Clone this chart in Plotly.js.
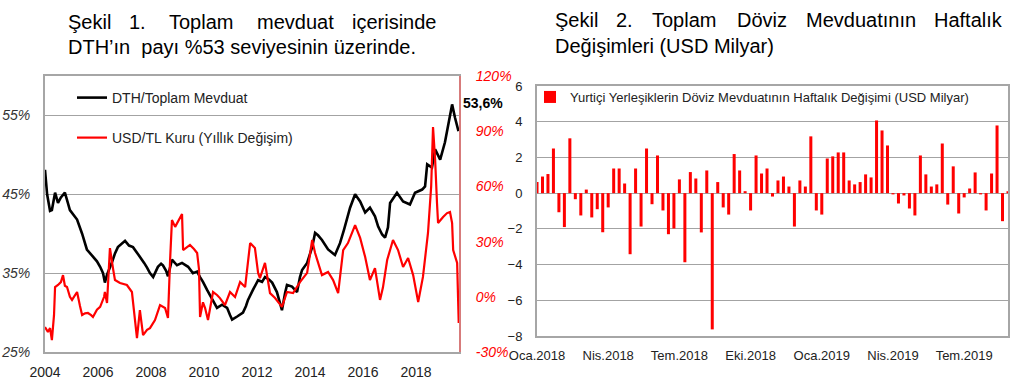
<!DOCTYPE html>
<html>
<head>
<meta charset="utf-8">
<script src="https://cdn.plot.ly/plotly-3.0.1.min.js"></script>
<style>html,body{margin:0;padding:0;background:#fff;}#chart{width:1024px;height:387px;}</style>
</head>
<body>
<div id="chart"></div>
<script>
// ---- Chart 1: DTH share (left axis) and USD/TL annual change (right axis) ----
const dthYear = [2004.00,2004.08,2004.19,2004.26,2004.38,2004.49,2004.60,2004.75,2004.83,2004.94,2005.21,2005.40,2005.58,2005.81,2005.96,2006.08,2006.19,2006.26,2006.34,2006.53,2006.64,2006.75,2006.91,2007.02,2007.17,2007.32,2007.47,2007.58,2007.74,2007.85,2007.96,2008.08,2008.19,2008.26,2008.38,2008.45,2008.57,2008.64,2008.79,2008.98,2009.17,2009.40,2009.58,2009.74,2009.85,2009.96,2010.11,2010.23,2010.38,2010.49,2010.68,2010.87,2010.98,2011.06,2011.25,2011.47,2011.58,2011.66,2011.85,2012.04,2012.19,2012.30,2012.45,2012.57,2012.75,2012.87,2012.94,2013.06,2013.13,2013.32,2013.51,2013.62,2013.70,2013.89,2014.08,2014.19,2014.30,2014.45,2014.68,2014.94,2015.13,2015.28,2015.40,2015.51,2015.70,2015.89,2016.08,2016.26,2016.45,2016.57,2016.72,2016.83,2016.94,2017.02,2017.28,2017.51,2017.77,2017.96,2018.23,2018.34,2018.42,2018.60,2018.72,2018.91,2019.09,2019.21,2019.36,2019.47,2019.60];
const dthValue = [48.1,45.0,42.9,43.0,45.2,43.9,44.6,45.2,44.3,43.0,41.8,40.0,38.0,37.1,36.5,35.8,35.0,33.8,34.8,36.4,37.5,38.3,38.8,39.1,38.5,38.3,37.6,37.1,36.3,35.7,35.0,34.5,35.2,35.8,36.2,36.0,35.3,34.6,36.7,36.0,36.3,35.8,35.0,35.2,34.5,33.9,32.9,32.2,31.2,30.6,31.0,30.6,29.7,29.1,29.5,30.0,30.8,31.6,32.9,34.1,33.9,34.5,34.2,33.8,32.6,31.2,30.3,32.5,33.5,33.3,32.6,34.5,35.4,36.3,38.3,40.1,39.8,39.2,38.0,37.3,38.8,40.5,41.8,43.3,45.0,44.1,42.7,43.3,42.2,40.9,39.9,39.5,40.8,43.9,45.2,44.1,43.7,45.2,45.6,46.0,48.8,48.4,50.7,49.4,51.6,53.6,56.4,54.7,53.0];

const usdYear = [2004.00,2004.11,2004.19,2004.26,2004.34,2004.38,2004.49,2004.60,2004.68,2004.75,2004.83,2004.94,2005.02,2005.13,2005.21,2005.32,2005.40,2005.51,2005.62,2005.74,2005.81,2005.96,2006.08,2006.23,2006.26,2006.34,2006.45,2006.57,2006.64,2006.83,2006.98,2007.09,2007.28,2007.36,2007.47,2007.58,2007.70,2007.85,2007.96,2008.15,2008.34,2008.53,2008.64,2008.72,2008.79,2008.91,2009.06,2009.17,2009.21,2009.36,2009.47,2009.62,2009.74,2009.81,2009.85,2009.96,2010.04,2010.15,2010.34,2010.49,2010.60,2010.79,2010.98,2011.17,2011.36,2011.55,2011.66,2011.74,2011.92,2012.04,2012.11,2012.30,2012.49,2012.68,2012.94,2013.13,2013.36,2013.62,2013.89,2014.08,2014.19,2014.45,2014.68,2014.87,2015.06,2015.25,2015.43,2015.70,2015.89,2016.08,2016.26,2016.45,2016.64,2016.75,2016.91,2017.13,2017.32,2017.51,2017.70,2017.89,2018.08,2018.26,2018.45,2018.57,2018.64,2018.72,2018.79,2018.83,2019.02,2019.17,2019.28,2019.36,2019.40,2019.55,2019.61];
const usdValue = [-16.4,-19.1,-17.0,-23.5,-10.0,5.3,6.4,8.0,11.8,6.0,5.3,0.0,-1.7,1.0,2.6,-5.0,-9.9,-9.0,-8.8,-10.0,-11.0,-7.0,-5.5,0.0,2.6,-3.4,26.5,15.0,9.1,7.5,7.0,6.4,2.6,-8.0,-22.4,-7.2,-20.8,-18.0,-17.0,-12.6,-4.5,-6.1,-11.5,20.0,41.7,38.0,42.0,45.0,25.4,27.0,28.2,26.0,23.8,15.0,-11.0,-3.0,-6.1,-12.6,2.6,1.0,-0.7,-4.5,2.6,-0.1,8.0,5.3,18.0,29.2,26.5,13.0,10.2,18.4,2.0,-0.7,-5.5,2.6,2.0,8.0,13.0,30.9,23.8,11.8,13.5,9.1,2.0,25.4,29.2,39.0,32.0,21.6,9.1,15.6,-1.7,5.0,20.0,30.9,25.4,16.2,21.1,11.8,-2.8,10.8,34.7,60.0,92.3,74.3,51.0,40.1,43.4,45.5,46.1,40.1,25.4,18.4,-14.2];

const leftTicks = [25, 35, 45, 55];
const leftTickText = ['25%', '35%', '45%', '55%'];
const rightTicks = [-30, 0, 30, 60, 90, 120];
const rightTickText = ['-30%', '0%', '30%', '60%', '90%', '120%'];
const yearTicks = [2004, 2006, 2008, 2010, 2012, 2014, 2016, 2018];

// ---- Chart 2: weekly change of residents' FX deposits (USD bn) ----
const weekStart = [2018, 0, 5];
const weeklyChange = [0.62,0.93,1.07,2.5,-1.07,-1.9,3.07,-0.34,-1.25,0.2,
  -1.36,-0.9,-2.19,-0.8,1.38,1.38,0.54,-3.42,1.38,-1.87,
  2.5,-0.62,2.11,-0.97,-2.3,-1.98,0.77,-3.87,1.18,0.82,
  -2.2,1.27,-7.63,0.62,-0.8,-1.2,2.19,1.27,0.11,-0.97,
  2.11,1.1,1.38,-0.19,0.71,0.93,0.37,-1.87,0.71,0.37,
  3.18,-0.97,-1.2,1.94,2.06,2.28,2.28,0.71,0.49,0.62,
  1.05,0.88,4.07,3.51,2.67,-0.07,-0.58,-0.13,-0.86,-1.25,
  2.11,1.05,0.37,0.49,2.78,-0.64,1.5,-1.14,-0.24,0.26,
  1.16,-0.07,-0.97,1.1,3.79,-1.57,0.11];
const monthTickDates = ['2018-01-05','2018-04-06','2018-07-06','2018-10-05','2019-01-04','2019-04-05','2019-07-05'];
const monthTickText = ['Oca.2018','Nis.2018','Tem.2018','Eki.2018','Oca.2019','Nis.2019','Tem.2019'];

const weekDates = weeklyChange.map((_, i) =>
  new Date(Date.UTC(weekStart[0], weekStart[1], weekStart[2] + 7 * i)).toISOString().slice(0, 10));

const FONT = '"Liberation Sans", Arial, sans-serif';
const GRID = '#a3a3a3';
const AXIS = '#a6a6a6';

const traces = [
  {x: dthYear, y: dthValue, type: 'scatter', mode: 'lines', name: 'DTH/Toplam Mevduat',
   line: {color: '#000000', width: 2.6}, xaxis: 'x', yaxis: 'y', legend: 'legend'},
  {x: usdYear, y: usdValue, type: 'scatter', mode: 'lines', name: 'USD/TL Kuru (Yıllık Değişim)',
   line: {color: '#ff0000', width: 2.2}, xaxis: 'x', yaxis: 'y2', legend: 'legend2'},
  {x: weekDates, y: weeklyChange, type: 'bar', name: 'Yurtiçi Yerleşiklerin Döviz Mevduatının Haftalık Değişimi (USD Milyar)',
   marker: {color: '#ff0000'}, xaxis: 'x3', yaxis: 'y3', legend: 'legend3'}
];

function word(text, x, y, size) {
  return {text: text, x: x / 1024, y: 1 - y / 387, xref: 'paper', yref: 'paper', xanchor: 'left', yanchor: 'middle',
          showarrow: false, font: {family: FONT, size: size || 20, color: '#000'}};
}

const annotations = [
  word('Şekil', 66, 22), word('1.', 127, 22), word('Toplam', 167, 22), word('mevduat', 255, 22), word('içerisinde', 350, 22),
  word('DTH’ın  payı %53 seviyesinin üzerinde.', 66, 47),
  word('Şekil', 553, 20), word('2.', 614, 20), word('Toplam', 650, 20), word('Döviz', 735, 20), word('Mevduatının', 804, 20), word('Haftalık', 932, 20),
  word('Değişimleri (USD Milyar)', 553, 46),
  {text: '<b>53,6%</b>', x: 461 / 1024, y: 1 - 103 / 387, xref: 'paper', yref: 'paper', xanchor: 'left', yanchor: 'middle',
   showarrow: false, font: {family: FONT, size: 14, color: '#000'}}
];

const layout = {
  width: 1024, height: 387,
  margin: {l: 0, r: 0, t: 0, b: 0},
  paper_bgcolor: '#ffffff', plot_bgcolor: '#ffffff',
  font: {family: FONT, color: '#222'},
  bargap: 0.45,
  xaxis: {domain: [45 / 1024, 459 / 1024], range: [2004, 2019.62], anchor: 'y',
          tickvals: yearTicks, tickformat: 'd', showgrid: false, zeroline: false,
          showline: true, linecolor: AXIS, linewidth: 2, mirror: true, ticks: '', ticklabelstandoff: 6,
          tickfont: {family: FONT, size: 14, color: '#222'}},
  yaxis: {domain: [1 - 352 / 387, 1 - 76 / 387], range: [25, 60], anchor: 'x',
          tickvals: leftTicks, ticktext: leftTickText, showgrid: true, gridcolor: GRID, gridwidth: 1,
          zeroline: false, showline: true, linecolor: AXIS, linewidth: 2, ticks: '', ticklabelstandoff: 10,
          tickfont: {family: FONT, size: 14, color: '#333', style: 'italic'}},
  yaxis2: {overlaying: 'y', side: 'right', anchor: 'x', range: [-30, 120],
           tickvals: rightTicks, ticktext: rightTickText, showgrid: false, zeroline: false,
           showline: true, linecolor: '#d77b7b', linewidth: 2, ticks: '', ticklabelstandoff: 12,
           tickfont: {family: FONT, size: 14, color: '#ff0000', style: 'italic'}},
  xaxis3: {domain: [537 / 1024, 1008 / 1024], type: 'date', anchor: 'y3',
           range: [weekDates[0], weekDates[weekDates.length - 1]],
           tickvals: monthTickDates, ticktext: monthTickText, showgrid: false, zeroline: false,
           showline: true, linecolor: AXIS, linewidth: 2, mirror: true, ticks: '', ticklabelstandoff: 6,
           tickfont: {family: FONT, size: 13, color: '#222'}},
  yaxis3: {domain: [1 - 336 / 387, 1 - 86 / 387], range: [-8, 6], dtick: 2, anchor: 'x3',
           showgrid: true, gridcolor: GRID, gridwidth: 1, zeroline: false,
           showline: true, linecolor: AXIS, linewidth: 2, mirror: true, ticks: '', ticklabelstandoff: 10,
           tickfont: {family: FONT, size: 13, color: '#222'}},
  legend: {x: 72 / 1024, y: 1 - 98 / 387, xanchor: 'left', yanchor: 'middle', bgcolor: 'rgba(0,0,0,0)',
           font: {family: FONT, size: 14, color: '#222'}},
  legend2: {x: 72 / 1024, y: 1 - 138 / 387, xanchor: 'left', yanchor: 'middle', bgcolor: 'rgba(0,0,0,0)',
           font: {family: FONT, size: 14, color: '#222'}},
  legend3: {x: 530 / 1024, y: 1 - 97 / 387, xanchor: 'left', yanchor: 'middle', bgcolor: 'rgba(0,0,0,0)',
           font: {family: FONT, size: 13, color: '#222'}},
  showlegend: true,
  annotations: annotations
};

Plotly.newPlot('chart', traces, layout, {displayModeBar: false, staticPlot: true});
</script>
</body>
</html>
